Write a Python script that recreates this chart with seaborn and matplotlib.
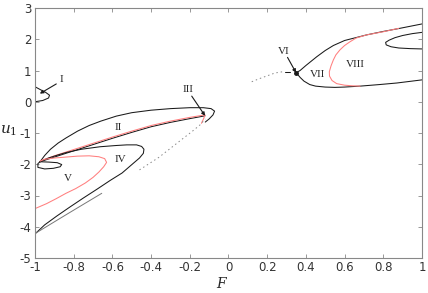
import numpy as np
import pandas as pd
import seaborn as sns
import matplotlib
matplotlib.use("Agg")
import matplotlib.pyplot as plt

# curve data (F, u1)
c1_x = [-1.0, -0.97, -0.945, -0.925, -0.93, -0.96, -1.0]
c1_y = [0.48, 0.38, 0.30, 0.21, 0.12, 0.04, 0.0]

c2_up_x = [-0.974, -0.95, -0.92, -0.88, -0.84, -0.78, -0.72, -0.66, -0.58, -0.50, -0.40,
           -0.30, -0.20, -0.13, -0.09, -0.072, -0.08, -0.10, -0.12]
c2_up_y = [-1.92, -1.72, -1.52, -1.32, -1.16, -0.94, -0.76, -0.62, -0.46, -0.35, -0.27,
           -0.22, -0.19, -0.19, -0.22, -0.30, -0.42, -0.55, -0.65]

c2_lo_x = [-0.974, -0.90, -0.80, -0.70, -0.60, -0.50, -0.40, -0.30, -0.20, -0.121]
c2_lo_y = [-1.92, -1.77, -1.57, -1.37, -1.17, -0.98, -0.80, -0.66, -0.54, -0.45]

red2_x = [-0.97, -0.90, -0.80, -0.70, -0.60, -0.50, -0.40, -0.30, -0.20, -0.121, -0.13, -0.14]
red2_y = [-1.89, -1.73, -1.53, -1.33, -1.13, -0.94, -0.76, -0.62, -0.50, -0.42, -0.56, -0.69]

loop_x = [-0.974, -0.93, -0.885, -0.862, -0.87, -0.905, -0.95, -0.985, -0.985, -0.974]
loop_y = [-1.92, -1.93, -1.95, -2.01, -2.08, -2.13, -2.15, -2.10, -1.98, -1.92]

c4_x = [-0.974, -0.93, -0.88, -0.836, -0.76, -0.664, -0.58, -0.526, -0.475, -0.449, -0.437,
        -0.44, -0.46, -0.492, -0.55, -0.612, -0.68, -0.75, -0.82, -0.888, -0.95, -0.995]
c4_y = [-1.92, -1.80, -1.70, -1.62, -1.52, -1.44, -1.40, -1.38, -1.38, -1.43, -1.52,
        -1.65, -1.80, -1.97, -2.28, -2.52, -2.80, -3.08, -3.37, -3.66, -3.94, -4.20]

red5_x = [-0.974, -0.95, -0.90, -0.84, -0.78, -0.72, -0.67, -0.64, -0.63, -0.645, -0.67,
          -0.70, -0.74, -0.79, -0.84, -0.89, -0.94, -1.0]
red5_y = [-1.90, -1.84, -1.80, -1.77, -1.74, -1.73, -1.76, -1.82, -1.94, -2.08, -2.25,
          -2.42, -2.60, -2.78, -2.93, -3.10, -3.26, -3.42]

gray_x = [-0.995, -0.83, -0.655]
gray_y = [-4.20, -3.58, -2.93]

dot_l_x = [-0.46, -0.36, -0.30, -0.234, -0.19, -0.147, -0.12]
dot_l_y = [-2.18, -1.78, -1.49, -1.17, -0.96, -0.74, -0.55]

dot_r_x = [0.12, 0.16, 0.20, 0.24, 0.28]
dot_r_y = [0.64, 0.74, 0.83, 0.92, 0.96]

dash_x = [0.29, 0.32]
dash_y = [0.96, 0.96]

c6_up_x = [0.35, 0.37, 0.40, 0.456, 0.50, 0.542, 0.60, 0.714, 0.80, 0.886, 1.0]
c6_up_y = [0.93, 1.00, 1.16, 1.44, 1.64, 1.80, 1.96, 2.14, 2.25, 2.35, 2.49]

c6_lo_x = [0.35, 0.37, 0.39, 0.42, 0.45, 0.50, 0.55, 0.60, 0.68, 0.78, 0.87, 1.0]
c6_lo_y = [0.93, 0.78, 0.66, 0.55, 0.50, 0.47, 0.46, 0.47, 0.50, 0.55, 0.60, 0.70]

red8_x = [0.88, 0.80, 0.714, 0.66, 0.628, 0.60, 0.576, 0.555, 0.542, 0.53, 0.521,
          0.522, 0.535, 0.559, 0.60, 0.64, 0.68]
red8_y = [2.35, 2.24, 2.14, 2.04, 1.92, 1.80, 1.66, 1.50, 1.34, 1.15, 0.96,
          0.82, 0.68, 0.58, 0.53, 0.51, 0.50]

inner_x = [1.0, 0.95, 0.90, 0.86, 0.83, 0.812, 0.815, 0.84, 0.88, 0.94, 1.0]
inner_y = [2.22, 2.18, 2.12, 2.05, 1.97, 1.90, 1.82, 1.76, 1.72, 1.70, 1.69]

labels = ["I", "II", "III", "IV", "V", "VI", "VII", "VIII"]
label_x = [-0.862, -0.57, -0.208, -0.561, -0.828, 0.287, 0.459, 0.657]
label_y = [0.72, -0.84, 0.38, -1.84, -2.45, 1.60, 0.86, 1.18]

sns.set_style("ticks")
plt.rcParams["axes.unicode_minus"] = False
plt.rcParams["font.family"] = ["DejaVu Sans"]

fig = plt.figure(figsize=(4.28, 2.93), dpi=100)
ax = fig.add_axes([35 / 428, 1 - 258 / 293, 387 / 428, 250 / 293])

black = "#1a1a1a"
red = "#ff7f7f"
lw = 0.75


def curve(x, y, color, **kw):
    df = pd.DataFrame({"F": x, "u1": y})
    sns.lineplot(data=df, x="F", y="u1", sort=False, estimator=None, color=color,
                 linewidth=kw.pop("linewidth", lw), ax=ax, **kw)


curve(c1_x, c1_y, black)
curve(c2_up_x, c2_up_y, black)
curve(c2_lo_x, c2_lo_y, black)
curve(red2_x, red2_y, red)
curve(loop_x, loop_y, black)
curve(c4_x, c4_y, black)
curve(red5_x, red5_y, red)
curve(gray_x, gray_y, "#777777", linewidth=0.7)
curve(dot_l_x, dot_l_y, "#888888", linewidth=0.7, linestyle=(0, (1.5, 3)))
curve(dot_r_x, dot_r_y, "#888888", linewidth=0.7, linestyle=(0, (1.5, 3)))
curve(dash_x, dash_y, black)
curve(c6_up_x, c6_up_y, black)
curve(c6_lo_x, c6_lo_y, black)
curve(red8_x, red8_y, red)
curve(inner_x, inner_y, black)
ax.plot([0.35], [0.925], "o", color=black, markersize=2.5)

for t, x, y in zip(labels, label_x, label_y):
    ax.text(x, y, t, fontsize=8, family="Liberation Serif", ha="center", va="center")

arrows = [((-0.89, 0.57), (-0.975, 0.26)),
          ((-0.19, 0.18), (-0.121, -0.45)),
          ((0.305, 1.42), (0.349, 0.93))]
for (x0, y0), (x1, y1) in arrows:
    ax.annotate("", xy=(x1, y1), xytext=(x0, y0),
                arrowprops=dict(arrowstyle="-|>", color=black, lw=0.8,
                                mutation_scale=5, shrinkA=0, shrinkB=0))

ax.set_xlim(-1, 1)
ax.set_ylim(-5, 3)
ax.set_xticks(np.arange(-1, 1.01, 0.2))
ax.set_xticklabels(["-1", "-0.8", "-0.6", "-0.4", "-0.2", "0", "0.2", "0.4", "0.6", "0.8", "1"])
ax.set_yticks(range(-5, 4))
ax.set_xlabel("")
ax.set_ylabel("")
ax.tick_params(direction="in", length=3, width=0.6, labelsize=8.5, colors="#333333",
               top=True, right=True, pad=2.5)
ax.tick_params(color="#888888")
for s in ax.spines.values():
    s.set_color("#888888")
    s.set_linewidth(0.8)

fig.text(9 / 428, 1 - 131 / 293, "$u_1$", fontsize=11, ha="center", va="center",
         math_fontfamily="dejavuserif")
fig.text(222 / 428, 1 - 283 / 293, "$F$", fontsize=10, ha="center", va="center",
         math_fontfamily="dejavuserif")

fig.savefig("out.png", dpi=100)
